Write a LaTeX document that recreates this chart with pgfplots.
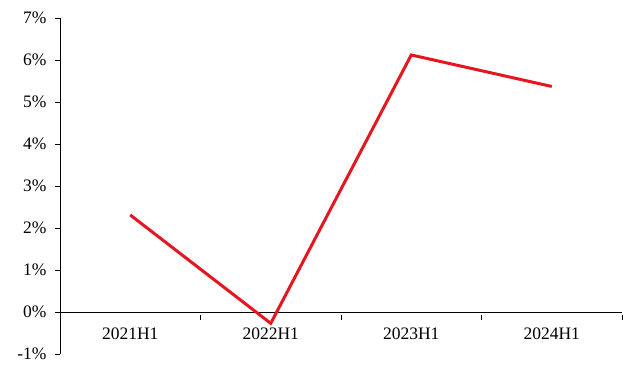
\documentclass[border=0pt]{standalone}
\usepackage{pgfplots}
\pgfplotsset{compat=1.18}
\usepackage{fontspec}
\setmainfont{Liberation Serif}
\definecolor{lred}{RGB}{230,22,32}
\begin{document}
\begin{tikzpicture}[x=1pt,y=1pt]
\useasboundingbox (-60,-11) rectangle (568,354);
\begin{axis}[
  at={(0,0)}, anchor=south west,
  scale only axis, width=562pt, height=336pt,
  xmin=-0.5, xmax=3.5, ymin=-1, ymax=7,
  axis y line=left, axis x line=middle,
  axis line style={-, black, line width=0.8pt},
  xtick={0,1,2,3},
  xticklabels={2021H1,2022H1,2023H1,2024H1},
  minor xtick={0.5,1.5,2.5,3.5},
  x tick style={draw=none},
  minor x tick style={draw=black, line width=0.8pt, yshift=-2.5pt},
  minor tick length=5pt,
  ytick={-1,0,...,7},
  yticklabels={-1\%,0\%,1\%,2\%,3\%,4\%,5\%,6\%,7\%},
  y tick style={black, line width=0.8pt},
  tick align=outside, major tick length=5pt,
  ticklabel style={font=\fontsize{17.5}{19}\selectfont},
  x tick label style={yshift=-7pt},
  y tick label style={xshift=-5pt},
  clip=false,
]
\addplot[lred, line width=3pt] coordinates {(0,2.31) (1,-0.27) (2,6.12) (3,5.37)};
\end{axis}
\end{tikzpicture}
\end{document}
